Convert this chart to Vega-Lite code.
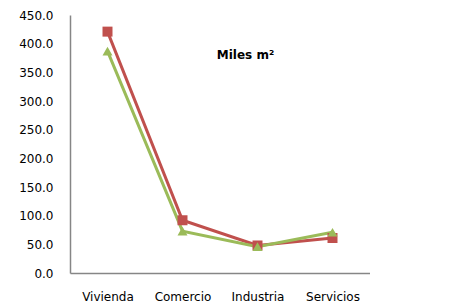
{
  "$schema": "https://vega.github.io/schema/vega-lite/v6.json",
  "width": 300,
  "height": 258,
  "padding": {"left": 0, "top": 9, "right": 0, "bottom": 0},
  "background": "white",
  "config": {
    "view": {"stroke": null},
    "font": "DejaVu Sans",
    "axis": {"labelFont": "DejaVu Sans", "labelFontSize": 12, "labelColor": "#000000"},
    "legend": {"labelFont": "DejaVu Sans", "labelFontSize": 12, "labelColor": "#000000"}
  },
  "data": {
    "values": [
      {"sector": "Vivienda", "year": "2008", "value": 421},
      {"sector": "Comercio", "year": "2008", "value": 92},
      {"sector": "Industria", "year": "2008", "value": 48},
      {"sector": "Servicios", "year": "2008", "value": 61},
      {"sector": "Vivienda", "year": "2009", "value": 387},
      {"sector": "Comercio", "year": "2009", "value": 73},
      {"sector": "Industria", "year": "2009", "value": 46},
      {"sector": "Servicios", "year": "2009", "value": 71}
    ]
  },
  "encoding": {
    "x": {
      "field": "sector",
      "type": "nominal",
      "sort": ["Vivienda", "Comercio", "Industria", "Servicios"],
      "scale": {"padding": 0.5},
      "axis": {"title": null, "labelAngle": 0, "ticks": false, "labelPadding": 18, "domainColor": "#868686", "domainWidth": 1.5}
    },
    "y": {
      "field": "value",
      "type": "quantitative",
      "scale": {"domain": [0, 450], "nice": false},
      "axis": {"title": null, "values": [0, 50, 100, 150, 200, 250, 300, 350, 400, 450], "format": ".1f", "grid": false, "ticks": false, "labelPadding": 17, "minExtent": 70, "maxExtent": 70, "domainColor": "#868686", "domainWidth": 1.5}
    }
  },
  "layer": [
    {
      "mark": {"type": "line", "strokeWidth": 3},
      "encoding": {
        "stroke": {
          "field": "year",
          "type": "nominal",
          "scale": {"domain": ["2008", "2009"], "range": ["#C0504D", "#9BBB59"]},
          "legend": null
        }
      }
    },
    {
      "mark": {"type": "point", "filled": true},
      "encoding": {
        "color": {
          "field": "year",
          "type": "nominal",
          "scale": {"domain": ["2008", "2009"], "range": ["#C0504D", "#9BBB59"]}
        },
        "shape": {
          "field": "year",
          "type": "nominal",
          "scale": {"domain": ["2008", "2009"], "range": ["square", "triangle-up"]}
        },
        "size": {"value": 100},
        "opacity": {"value": 1}
      }
    },
    {
      "data": {"values": [{"label": "Miles m²", "sector": "Industria", "value": 380}]},
      "mark": {"type": "text", "fontWeight": "bold", "fontSize": 12, "font": "DejaVu Sans", "dx": -12, "color": "#000000"},
      "encoding": {
        "text": {"field": "label", "type": "nominal"}
      }
    }
  ]
}
